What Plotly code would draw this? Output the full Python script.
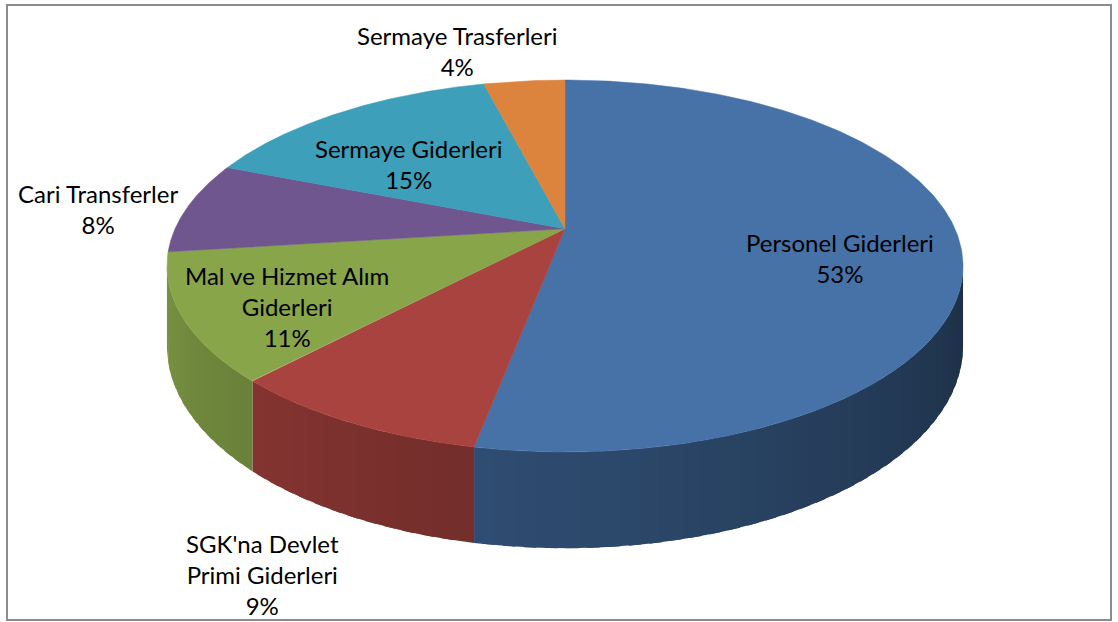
import numpy as np
import plotly.graph_objects as go

# ---- data ----
categories = ["Personel Giderleri", "SGK'na Devlet<br>Primi Giderleri", "Mal ve Hizmet Alım<br>Giderleri",
              "Cari Transferler", "Sermaye Giderleri", "Sermaye Trasferleri"]
values = [53, 9, 11, 8, 15, 4]

# ---- styles ----
top_colors = ["#4672a8", "#a9433f", "#88a54a", "#6f568f", "#3d9fba", "#dc843d"]
label_pos = [(840, 258), (262, 574), (287, 306), (98, 209), (408, 164), (457, 51)]

W, H = 1118, 622
CX, CY, RX, RY, PERSP, DEPTH = 565, 266, 390, 186, -0.2, 77


def proj(theta):
    u, v = np.sin(theta), -np.cos(theta)
    s = 1.0 / (1.0 + PERSP * v)
    return CX + RX * u * s, CY + RY * (v + PERSP) * s, s


def shade(hex_color, f):
    h = hex_color.lstrip("#")
    r, g, b = (int(h[k:k + 2], 16) for k in (0, 2, 4))
    return "rgb({},{},{})".format(int(r * f), int(g * f), int(b * f))


total = float(sum(values))
bounds = np.concatenate([[0.0], np.cumsum(values) / total * 2 * np.pi])
vis_lo = np.pi - np.arccos(0.2)  # ~101.5 deg
vis_hi = np.pi + np.arccos(0.2)  # ~258.5 deg

fig = go.Figure()

# side walls (shaded strips, darker toward the right)
STEP = np.radians(2.5)
for i in range(len(values)):
    a0, a1 = max(bounds[i], vis_lo), min(bounds[i + 1], vis_hi)
    if a1 <= a0:
        continue
    n = max(1, int(np.ceil((a1 - a0) / STEP)))
    edges = np.linspace(a0, a1, n + 1)
    for j in range(n):
        hi = edges[j + 1] + (0.6 * STEP if j < n - 1 else 0.0)
        t = np.linspace(edges[j], min(hi, a1), 14)
        x, y, s = proj(t)
        xb, yb = x[::-1], (y + DEPTH * s)[::-1]
        mid = np.degrees(0.5 * (edges[j] + edges[j + 1]))
        col = shade(top_colors[i], 0.41 + 0.00306 * (mid - 101.5))
        fig.add_trace(go.Scatter(x=np.concatenate([x, xb, x[:1]]), y=np.concatenate([y, yb, y[:1]]),
                                 fill="toself", fillcolor=col, mode="lines",
                                 line=dict(color=col, width=0),
                                 hoverinfo="skip", showlegend=False))

# top faces
vy = CY + RY * PERSP
for i in range(len(values)):
    t = np.linspace(bounds[i], bounds[i + 1], 300)
    x, y, _ = proj(t)
    fig.add_trace(go.Scatter(x=np.concatenate([[CX], x, [CX]]), y=np.concatenate([[vy], y, [vy]]),
                             fill="toself", fillcolor=top_colors[i], mode="lines",
                             line=dict(color=top_colors[i], width=0.5),
                             hoverinfo="skip", showlegend=False, name=categories[i].replace("<br>", " ")))

# labels
for i, c in enumerate(categories):
    pct = round(values[i] / total * 100)
    fig.add_annotation(x=label_pos[i][0], y=label_pos[i][1], text=f"{c}<br>{pct}%",
                       showarrow=False, xref="x", yref="y", xanchor="center", yanchor="middle",
                       align="center", font=dict(family="Lato", size=24, color="#000000"))

fig.add_shape(type="rect", xref="x", yref="y", x0=7, x1=1111, y0=5, y1=620,
              line=dict(color="#8c8c8c", width=2), fillcolor="rgba(0,0,0,0)")

fig.update_layout(width=W, height=H, margin=dict(l=0, r=0, t=0, b=0),
                  paper_bgcolor="white", plot_bgcolor="white",
                  xaxis=dict(range=[0, W], visible=False, fixedrange=True),
                  yaxis=dict(range=[H, 0], visible=False, fixedrange=True),
                  showlegend=False)

fig.write_html("out.html", config={"displayModeBar": False},
               post_script="document.body.style.margin='0';document.body.style.overflow='hidden';")
